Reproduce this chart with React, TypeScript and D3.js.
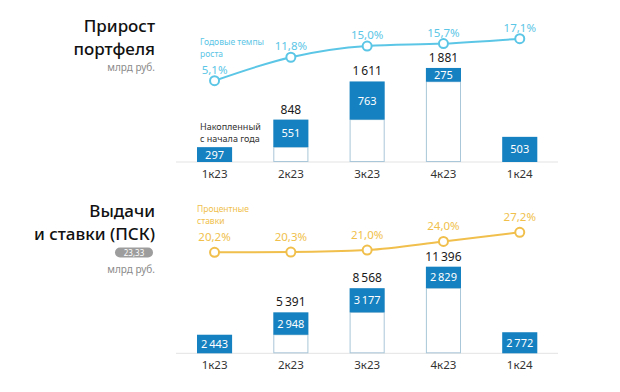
import React from "react";
import * as d3 from "d3";

// quarters on the x axis
const categories = ["1к23", "2к23", "3к23", "4к23", "1к24"];

// portfolio growth, bn rub: cumulative since start of year and this quarter's part
const portfolioTotal = [297, 848, 1611, 1881, 503];
const portfolioQuarter = [297, 551, 763, 275, 503];
const growthRate = [5.1, 11.8, 15.0, 15.7, 17.1];

// issuance, bn rub, and rates (ПСК)
const issuanceTotal = [2443, 5391, 8568, 11396, 2772];
const issuanceQuarter = [2443, 2948, 3177, 2829, 2772];
const interestRate = [20.2, 20.3, 21.0, 24.0, 27.2];

const fmtNum = (v: number) => String(v).replace(/\B(?=(\d{3})+(?!\d))/g, "\u2009");
const fmtPct = (v: number) => v.toFixed(1).replace(".", ",") + "%";

const FONT = "'Noto Sans', 'Open Sans', sans-serif";
const BLUE = "#1681c0";
const OUTLINE = "#a9c7d8";

const x = d3
  .scaleBand<string>()
  .domain(categories)
  .range([176.4, 557.9])
  .paddingInner(0.54)
  .paddingOuter(0.27);

type PanelProps = {
  base: number;
  yBar: d3.ScaleLinear<number, number>;
  yLine: d3.ScaleLinear<number, number>;
  totals: number[];
  quarters: number[];
  rates: number[];
  lineColor: string;
  labelGap: number;
  showTotals: boolean[];
};

const Panel = (p: PanelProps) => {
  const bw = x.bandwidth();
  const line = d3
    .line<number>()
    .x((_, i) => x(categories[i])! + bw / 2)
    .y((d) => p.yLine(d))
    .curve(d3.curveMonotoneX);
  return (
    <g>
      <line x1={176} x2={558} y1={p.base} y2={p.base} stroke="#e3e3e3" strokeWidth={1} />
      {categories.map((c, i) => {
        const x0 = x(c)!;
        const yTop = p.yBar(p.totals[i]);
        const yMid = p.yBar(p.totals[i] - p.quarters[i]);
        const hasWhite = p.totals[i] > p.quarters[i];
        return (
          <g key={c}>
            {hasWhite && (
              <rect x={x0 + 0.5} y={yMid} width={bw - 1} height={p.base - yMid - 0.5}
                fill="#fff" stroke={OUTLINE} strokeWidth={1} />
            )}
            <rect x={x0} y={yTop} width={bw} height={yMid - yTop} fill={BLUE} />
            <text x={x0 + bw / 2} y={(yTop + yMid) / 2 + 4} textAnchor="middle"
              fill="#fff" fontSize={11} fontFamily={FONT}>{fmtNum(p.quarters[i])}</text>
            {p.showTotals[i] && (
              <text x={x0 + bw / 2} y={yTop - 6} textAnchor="middle"
                fill="#1a1a1a" fontSize={12} fontFamily={FONT}>{fmtNum(p.totals[i])}</text>
            )}
            <text x={x0 + bw / 2} y={p.base + 16} textAnchor="middle"
              fill="#333" fontSize={11.5} fontFamily={FONT}>{c}</text>
          </g>
        );
      })}
      <path d={line(p.rates) || ""} fill="none" stroke={p.lineColor} strokeWidth={2} />
      {p.rates.map((r, i) => {
        const cx = x(categories[i])! + bw / 2;
        const cy = p.yLine(r);
        return (
          <g key={i}>
            <circle cx={cx} cy={cy} r={4.5} fill="#fff" stroke={p.lineColor} strokeWidth={2} />
            <text x={cx} y={cy - p.labelGap} textAnchor="middle" fill={p.lineColor}
              fontSize={11.5} fontFamily={FONT}>{fmtPct(r)}</text>
          </g>
        );
      })}
    </g>
  );
};

export default function App() {
  const yBarTop = d3.scaleLinear().domain([0, 2000]).range([162, 62]);
  const yLineTop = d3.scaleLinear().domain([0, 20]).range([98.55, 28.55]);
  const yBarBot = d3.scaleLinear().domain([0, 12000]).range([353.3, 262.1]);
  const yLineBot = d3.scaleLinear().domain([20, 30]).range([252.9, 224.3]);
  const cyan = "#5cc6e6";
  const gold = "#f0bf4c";
  const title = { textAnchor: "end" as const, fontSize: 17, fontWeight: 500, fill: "#111", fontFamily: FONT };
  return (
    <svg width={620} height={392} style={{ position: "absolute", left: 0, top: 0, background: "#fff" }}>
      {/* top panel titles */}
      <text x={155} y={32} {...title}>Прирост</text>
      <text x={155} y={55} {...title}>портфеля</text>
      <text x={155} y={70.5} textAnchor="end" fontSize={10} fill="#8a8a8a" fontFamily={FONT}>млрд руб.</text>

      <text x={200} y={45} fontSize={8.5} fill={cyan} fontFamily={FONT}>Годовые темпы</text>
      <text x={200} y={57} fontSize={8.5} fill={cyan} fontFamily={FONT}>роста</text>
      <text x={200} y={129.5} fontSize={9} fill="#333" fontFamily={FONT}>Накопленный</text>
      <text x={200} y={142} fontSize={9} fill="#333" fontFamily={FONT}>с начала года</text>

      <Panel base={162} yBar={yBarTop} yLine={yLineTop} totals={portfolioTotal}
        quarters={portfolioQuarter} rates={growthRate} lineColor={cyan} labelGap={7}
        showTotals={[false, true, true, true, false]} />

      {/* bottom panel titles */}
      <text x={155} y={217} {...title}>Выдачи</text>
      <text x={155} y={240} {...title}>и ставки (ПСК)</text>
      <rect x={115} y={247.5} width={38} height={10} rx={5} fill="#9d9d9d" />
      <text x={134} y={255.5} textAnchor="middle" fontSize={8} fill="#fff" fontFamily={FONT}>23,33</text>
      <text x={155} y={273} textAnchor="end" fontSize={10} fill="#8a8a8a" fontFamily={FONT}>млрд руб.</text>

      <text x={197} y={212} fontSize={8.5} fill={gold} fontFamily={FONT}>Процентные</text>
      <text x={197} y={224} fontSize={8.5} fill={gold} fontFamily={FONT}>ставки</text>

      <Panel base={353.3} yBar={yBarBot} yLine={yLineBot} totals={issuanceTotal}
        quarters={issuanceQuarter} rates={interestRate} lineColor={gold} labelGap={11}
        showTotals={[false, true, true, true, false]} />
    </svg>
  );
}
